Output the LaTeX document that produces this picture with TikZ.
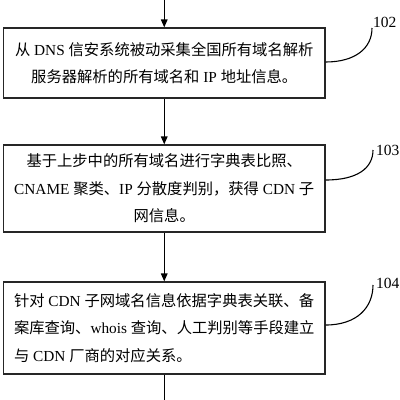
\documentclass[tikz,border=0pt]{standalone}
\usepackage{fontspec}
\setmainfont{Liberation Serif}
\newfontfamily\zhfont{Noto Sans CJK SC}
\newcommand\zh[1]{{\zhfont #1}}
\usetikzlibrary{arrows.meta}
\begin{document}
\begin{tikzpicture}[x=1pt,y=-1pt,
  box/.style={draw=black!85,line width=1.1pt,minimum width=321.5pt,inner sep=0pt,font=\fontsize{15.3}{27.5}\selectfont},
  flow/.style={line width=1.5pt,-{Triangle[length=8pt,width=6.5pt]}},
  plain/.style={line width=1.5pt},
  lead/.style={line width=1.1pt},
  lbl/.style={font=\fontsize{15.5}{18}\selectfont,inner sep=0pt}]
\useasboundingbox (0,0) rectangle (400,400);
\node[box,minimum height=70pt,align=center] (b1) at (164.25,63)
  {\zh{从} DNS \zh{信安系统被动采集全国所有域名解析}\\\zh{服务器解析的所有域名和} IP \zh{地址信息。}};
\node[box,minimum height=87pt,align=center] (b2) at (164.25,188.5)
  {\zh{基于上步中的所有域名进行字典表比照、}\\CNAME \zh{聚类、}IP \zh{分散度判别，获得} CDN \zh{子}\\\zh{网信息。}};
\node[box,minimum height=92pt,align=left] (b3) at (164.25,328)
  {\zh{针对} CDN \zh{子网域名信息依据字典表关联、备}\\\zh{案库查询、}whois \zh{查询、人工判别等手段建立}\\\zh{与} CDN \zh{厂商的对应关系。}};
\coordinate (top) at (164.25,0);
\coordinate (bot) at (164.25,400);
\draw[flow] (top) -- (b1);
\draw[flow] (b1) -- (b2);
\draw[flow] (b2) -- (b3);
\draw[plain] (b3) -- (bot);
\node[lbl,anchor=base west] (l102) at (373,27) {102};
\node[lbl,anchor=base west] (l103) at (376,155) {103};
\node[lbl,anchor=base west] (l104) at (376,288) {104};
\coordinate (e102) at (372,28);
\coordinate (e103) at (373,150);
\coordinate (e104) at (373,285);
\draw[lead] ([yshift=1pt]b1.east) .. controls +(30,0) and +(0,20) .. (e102);
\draw[lead] ([yshift=8.5pt]b2.east) .. controls +(32,0) and +(0,18) .. (e103);
\draw[lead] ([yshift=3pt]b3.east) .. controls +(32,0) and +(0,22) .. (e104);
\end{tikzpicture}
\end{document}
